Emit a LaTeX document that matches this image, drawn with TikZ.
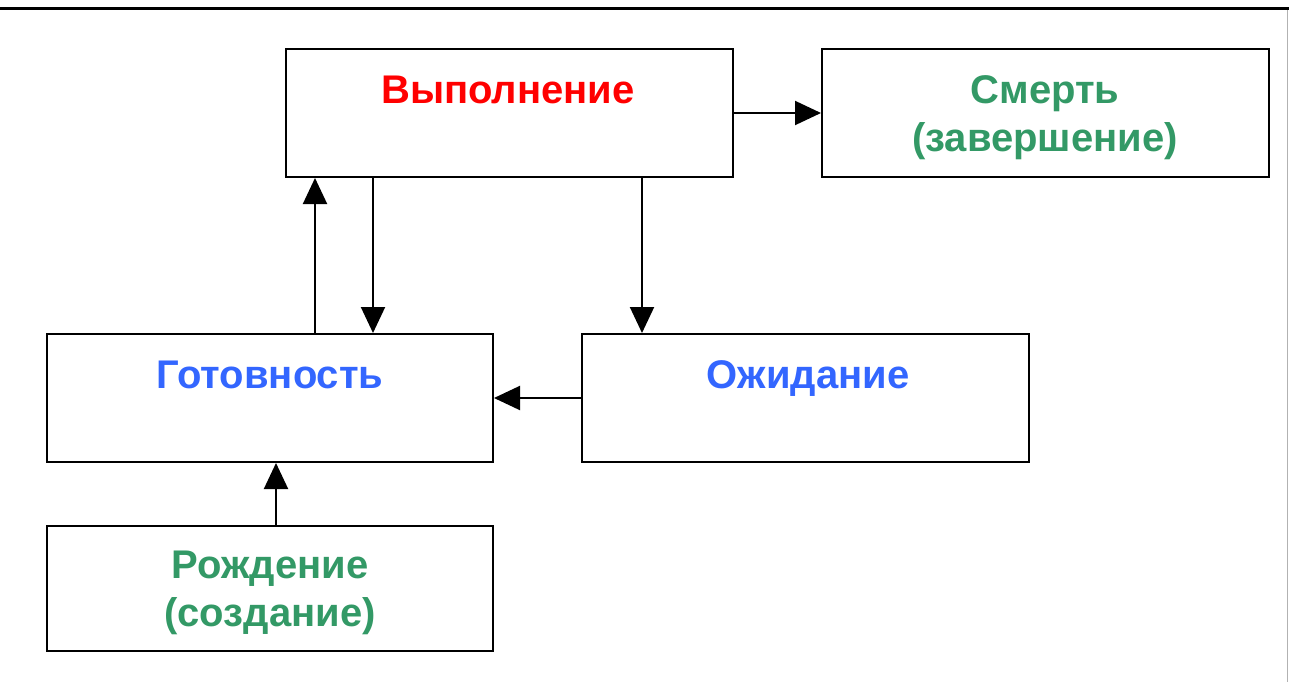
\documentclass[tikz,border=0pt]{standalone}
\usepackage{fontspec}
\setmainfont{Liberation Sans}
\usetikzlibrary{arrows.meta}
\definecolor{runred}{RGB}{255,0,0}
\definecolor{stblue}{RGB}{51,102,255}
\definecolor{stgreen}{RGB}{51,153,102}
\tikzset{
  box/.style={draw=black, line width=2pt, minimum width=#1, inner sep=0pt},
  lbl/.style={anchor=base, inner sep=0pt, font=\bfseries\fontsize{40}{49}\selectfont},
  conn/.style={line width=2pt, -{Triangle[length=26pt,width=24pt]}},
}
\begin{document}
\begin{tikzpicture}[x=1pt,y=-1pt]
\useasboundingbox (0,0) rectangle (1289,682);
\fill[white] (0,0) rectangle (1289,682);
\draw[line width=3pt] (0,9) -- (1289,9);
\draw[gray!60, line width=1pt] (1287,10) -- (1287,682);
% boxes
\node[box=447pt, minimum height=128pt] (run) at (509.5,113) {};
\node[box=447pt, minimum height=128pt] (death) at (1045.5,113) {};
\node[box=446pt, minimum height=128pt] (ready) at (270,398) {};
\node[box=447pt, minimum height=128pt] (wait) at (805.5,398) {};
\node[box=446pt, minimum height=125pt] (birth) at (270,588.5) {};
% labels
\node[lbl, text=runred] (trun) at (508,103) {Выполнение};
\node[lbl, text=stgreen] (tdeath1) at (1045,103) {Смерть};
\node[lbl, text=stgreen] (tdeath2) at (1045,151) {(завершение)};
\node[lbl, text=stblue] (tready) at (270,388) {Готовность};
\node[lbl, text=stblue] (twait) at (808,388) {Ожидание};
\node[lbl, text=stgreen] (tbirth1) at (270,578) {Рождение};
\node[lbl, text=stgreen] (tbirth2) at (270,626) {(создание)};
% connectors
\draw[conn] (run.east |- 0,113) -- (death.west |- 0,113);
\draw[conn] (ready.north -| 315,0) -- (run.south -| 315,0);
\draw[conn] (run.south -| 373,0) -- (ready.north -| 373,0);
\draw[conn] (run.south -| 642,0) -- (wait.north -| 642,0);
\draw[conn] (wait.west) -- (ready.east);
\draw[conn] (birth.north -| 276,0) -- (ready.south -| 276,0);
\end{tikzpicture}
\end{document}
